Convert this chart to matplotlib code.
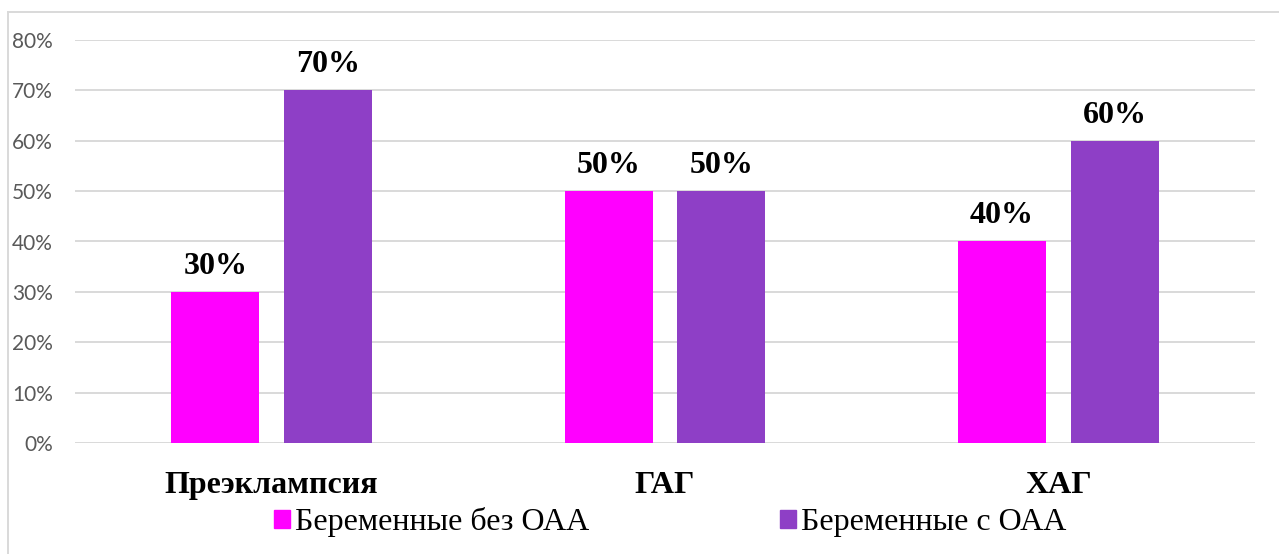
import matplotlib.pyplot as plt
from matplotlib.patches import Rectangle
import numpy as np

categories = ['Преэклампсия', 'ГАГ', 'ХАГ']
without_oaa = [30, 50, 40]
with_oaa = [70, 50, 60]
series_names = ['Беременные без ОАА', 'Беременные с ОАА']
colors = ['#FF00FF', '#8E3FC6']
yticks = [0, 10, 20, 30, 40, 50, 60, 70, 80]

fig = plt.figure(figsize=(12.79, 5.54), dpi=100)
ax = fig.add_axes([75 / 1279, 1 - 443 / 554, 1180 / 1279, 403 / 554])

x = np.arange(len(categories))
w = 0.224
off = 0.143
b1 = ax.bar(x - off, without_oaa, w, color=colors[0], zorder=3)
b2 = ax.bar(x + off, with_oaa, w, color=colors[1], zorder=3)

for bars, vals in ((b1, without_oaa), (b2, with_oaa)):
    for b, v in zip(bars, vals):
        ax.annotate(f'{v}%', (b.get_x() + b.get_width() / 2, v),
                    xytext=(0, 8), textcoords='offset points',
                    ha='center', va='bottom', fontsize=23,
                    fontweight='bold', family='Liberation Serif')

ax.set_xlim(-0.5, 2.5)
ax.set_ylim(0, 80)
ax.set_yticks(yticks)
ax.set_yticklabels([f'{t}%' for t in yticks], fontsize=15,
                   color='#595959', family='Lato')
ax.set_xticks(x)
ax.set_xticklabels(categories, fontsize=23, fontweight='bold',
                   family='Liberation Serif')
ax.tick_params(axis='y', length=0, pad=16)
ax.tick_params(axis='x', length=0, pad=20)
ax.grid(axis='y', color='#D9D9D9', linewidth=1.4, zorder=0)
for s in ax.spines.values():
    s.set_visible(False)

# outer chart frame (top and left edges)
fig.add_artist(plt.Line2D([8 / 1279, 1], [1 - 12 / 554] * 2,
                          color='#D9D9D9', linewidth=1.4))
fig.add_artist(plt.Line2D([8 / 1279] * 2, [0, 1 - 12 / 554],
                          color='#D9D9D9', linewidth=1.4))

handles = [Rectangle((0, 0), 1, 1, color=c) for c in colors]
fig.legend(handles, series_names, loc='center', ncol=2,
           bbox_to_anchor=(0.524, 1 - 522 / 554), frameon=False,
           prop={'family': 'Liberation Serif', 'size': 23},
           handlelength=0.5, handleheight=0.5, handletextpad=0.15,
           columnspacing=6.0)

fig.savefig('out.png', dpi=100)
